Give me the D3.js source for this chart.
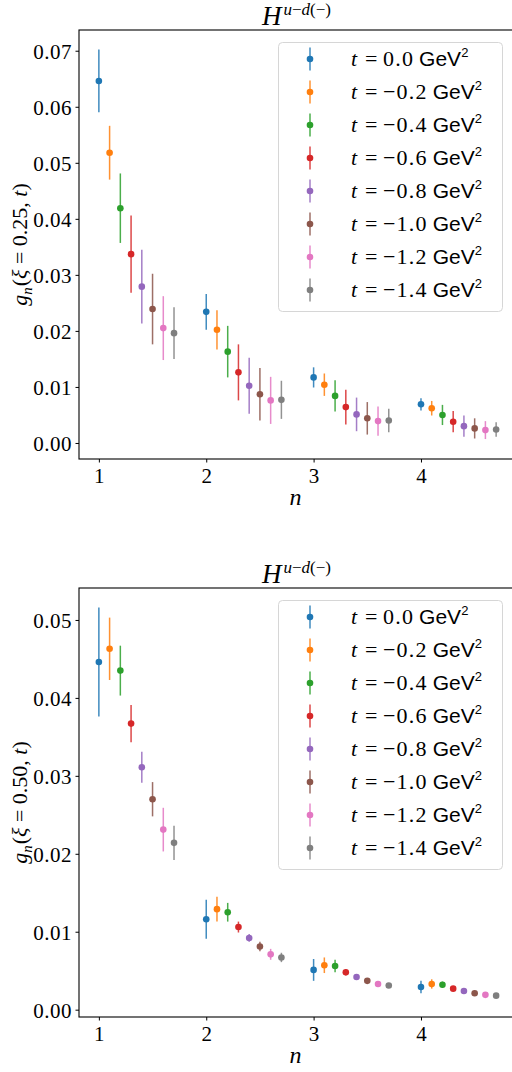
<!DOCTYPE html>
<html>
<head>
<meta charset="utf-8">
<script src="https://cdn.jsdelivr.net/npm/d3@7"></script>
<style>
  html, body { margin: 0; padding: 0; background: #fff; }
  svg { display: block; }
</style>
</head>
<body>
<svg id="chart" width="512" height="1072"></svg>
<script>
// Mellin moments n = 1..4, one series per momentum transfer t
const nValues = [1, 2, 3, 4];
const tLabels = ["0.0", "\u22120.2", "\u22120.4", "\u22120.6", "\u22120.8", "\u22121.0", "\u22121.2", "\u22121.4"];
const seriesColors = ["#1f77b4", "#ff7f0e", "#2ca02c", "#d62728", "#9467bd", "#8c564b", "#e377c2", "#7f7f7f"];
const tickValues025 = [0.00, 0.01, 0.02, 0.03, 0.04, 0.05, 0.06, 0.07];
const tickValues050 = [0.00, 0.01, 0.02, 0.03, 0.04, 0.05];

// g_n(xi = 0.25, t): rows = t, columns = n
const g025 = [
  [0.0646, 0.0234, 0.0117, 0.0069],
  [0.0518, 0.0202, 0.0104, 0.0062],
  [0.0419, 0.0163, 0.0084, 0.0050],
  [0.0337, 0.0126, 0.0064, 0.0038],
  [0.0279, 0.0102, 0.0051, 0.0030],
  [0.0239, 0.0087, 0.0044, 0.0026],
  [0.0205, 0.0076, 0.0039, 0.0023],
  [0.0196, 0.0077, 0.0040, 0.0024]
];
const g025Err = [
  [0.0056, 0.0032, 0.0018, 0.0011],
  [0.0048, 0.0035, 0.0020, 0.0013],
  [0.0062, 0.0046, 0.0028, 0.0018],
  [0.0069, 0.0050, 0.0031, 0.0019],
  [0.0066, 0.0050, 0.0030, 0.0019],
  [0.0063, 0.0047, 0.0029, 0.0018],
  [0.0057, 0.0042, 0.0026, 0.0016],
  [0.0046, 0.0034, 0.0021, 0.0013]
];

// g_n(xi = 0.50, t)
const g050 = [
  [0.0446, 0.0116, 0.0051, 0.0029],
  [0.0463, 0.0129, 0.0057, 0.0033],
  [0.0435, 0.0125, 0.0056, 0.0032],
  [0.0367, 0.0106, 0.0048, 0.0027],
  [0.0311, 0.0092, 0.0042, 0.0024],
  [0.0270, 0.0081, 0.0037, 0.0021],
  [0.0231, 0.0071, 0.0033, 0.0019],
  [0.0214, 0.0067, 0.0031, 0.0018]
];
const g050Err = [
  [0.0070, 0.0025, 0.0014, 0.0008],
  [0.0040, 0.0016, 0.0010, 0.0006],
  [0.0032, 0.0012, 0.0008, 0.0004],
  [0.0024, 0.0007, 0.0004, 0.0002],
  [0.0020, 0.0005, 0.0003, 0.0002],
  [0.0022, 0.0006, 0.0002, 0.0001],
  [0.0028, 0.0007, 0.0002, 0.0001],
  [0.0022, 0.0006, 0.0002, 0.0001]
];

const tOffset = 0.1; // horizontal shift between t series within one n
const SERIF = '"Liberation Serif", "Times New Roman", "DejaVu Serif", serif';
const SANS = '"Liberation Sans", Arial, "DejaVu Sans", sans-serif';

const svg = d3.select("#chart");

function drawPanel(cfg) {
  const { top, bottom, left, right, yDomain, yTicks, mean, err, xiLabel, legendTop } = cfg;
  const g = svg.append("g");

  const x = d3.scaleLinear().domain([0.815, 4.885]).range([left, right]);
  const y = d3.scaleLinear().domain(yDomain).range([bottom, top]);

  // title H^{u-d(-)}
  const title = g.append("text")
    .style("font-family", SERIF)
    .attr("x", (left + right) / 2 - 1)
    .attr("y", top - 5)
    .attr("text-anchor", "middle")
    .attr("fill", "#000");
  title.append("tspan").attr("font-size", 27).attr("font-style", "italic").text("H");
  const sup = title.append("tspan").attr("font-size", 17).attr("dy", -10).attr("dx", 2);
  sup.append("tspan").attr("font-style", "italic").text("u");
  sup.append("tspan").text("\u2212");
  sup.append("tspan").attr("font-style", "italic").text("d");
  sup.append("tspan").text("(\u2212)");

  // axes
  const yAxis = d3.axisLeft(y).tickValues(yTicks).tickFormat(d3.format(".2f")).tickSize(3.5).tickPadding(3.5);
  const yG = g.append("g").attr("transform", `translate(${left},0)`).call(yAxis)
    .attr("font-family", null).attr("font-size", null);
  yG.select(".domain").remove();
  yG.selectAll("text").style("font-family", SERIF).style("font-size", "21px")
    .style("letter-spacing", "0.5px").attr("fill", "#000").attr("dy", "0.35em");
  yG.selectAll("line").attr("stroke", "#000");

  const xAxis = d3.axisBottom(x).tickValues(nValues).tickFormat(d3.format("d")).tickSize(3.5).tickPadding(6);
  const xG = g.append("g").attr("transform", `translate(0,${bottom})`).call(xAxis)
    .attr("font-family", null).attr("font-size", null);
  xG.select(".domain").remove();
  xG.selectAll("text").style("font-family", SERIF).style("font-size", "21px").attr("fill", "#000");
  xG.selectAll("line").attr("stroke", "#000");

  // spines
  g.append("rect")
    .attr("x", left).attr("y", top)
    .attr("width", right - left).attr("height", bottom - top)
    .attr("fill", "none").attr("stroke", "#000").attr("stroke-width", 1.1);

  // x label
  g.append("text").style("font-family", SERIF)
    .attr("x", (left + right) / 2 - 2).attr("y", bottom + 46)
    .attr("text-anchor", "middle").attr("font-size", 24).attr("font-style", "italic")
    .text("n");

  // y label g_n(xi = ..., t)
  const yl = g.append("text").style("font-family", SERIF)
    .attr("transform", `translate(27,${(top + bottom) / 2}) rotate(-90)`)
    .attr("text-anchor", "middle").attr("font-size", 22);
  yl.append("tspan").attr("font-style", "italic").text("g");
  yl.append("tspan").attr("font-style", "italic").attr("font-size", 15).attr("dy", 5).text("n");
  yl.append("tspan").attr("dy", -5).attr("dx", 1).text("(");
  yl.append("tspan").attr("font-style", "italic").text("\u03be");
  yl.append("tspan").text(` = ${xiLabel}, `);
  yl.append("tspan").attr("font-style", "italic").text("t");
  yl.append("tspan").text(")");

  // error bars and points
  mean.forEach((row, ti) => {
    const color = seriesColors[ti];
    const s = g.append("g");
    row.forEach((v, ni) => {
      const xv = x(nValues[ni] + ti * tOffset);
      const e = err[ti][ni];
      s.append("line")
        .attr("x1", xv).attr("x2", xv)
        .attr("y1", y(v - e)).attr("y2", y(v + e))
        .attr("stroke", color).attr("stroke-width", 1.5).attr("stroke-opacity", 0.85);
      s.append("circle")
        .attr("cx", xv).attr("cy", y(v)).attr("r", 3.3)
        .attr("fill", color);
    });
  });

  // legend
  const lg = g.append("g");
  const rowH = 33;
  lg.append("rect")
    .attr("x", 278.5).attr("y", legendTop + 0.5)
    .attr("width", 224).attr("height", 16 + rowH * (tLabels.length - 1) + 22)
    .attr("rx", 4).attr("ry", 4)
    .attr("fill", "#fff").attr("fill-opacity", 0.8)
    .attr("stroke", "#d6d6d6").attr("stroke-width", 1);
  tLabels.forEach((lab, i) => {
    const cy = legendTop + 17 + i * rowH;
    const color = seriesColors[i];
    lg.append("line").attr("x1", 310).attr("x2", 310)
      .attr("y1", cy - 11.5).attr("y2", cy + 11.5)
      .attr("stroke", color).attr("stroke-width", 1.5).attr("stroke-opacity", 0.85);
    lg.append("circle").attr("cx", 310).attr("cy", cy).attr("r", 3.3).attr("fill", color);
    const t = lg.append("text").attr("y", cy + 7).attr("fill", "#000");
    t.append("tspan").attr("x", 351).style("font-family", SERIF).attr("font-size", 22).attr("font-style", "italic").text("t");
    t.append("tspan").attr("x", 365).style("font-family", SERIF).attr("font-size", 22).text("=");
    t.append("tspan").attr("x", 383).style("font-family", SERIF).attr("font-size", 22)
      .style("letter-spacing", "1.2px").text(lab);
    t.append("tspan").attr("dx", 5).style("font-family", SANS).attr("font-size", 21).text("GeV");
    t.append("tspan").style("font-family", SANS).attr("font-size", 13).attr("dy", -9).text("2");
  });
}

drawPanel({
  top: 30, bottom: 459, left: 79, right: 516,
  yDomain: [-0.00286, 0.0737], yTicks: tickValues025,
  mean: g025, err: g025Err, xiLabel: "0.25", legendTop: 42
});

drawPanel({
  top: 588, bottom: 1017, left: 79, right: 516,
  yDomain: [-0.00094, 0.0541], yTicks: tickValues050,
  mean: g050, err: g050Err, xiLabel: "0.50", legendTop: 600
});
</script>
</body>
</html>
